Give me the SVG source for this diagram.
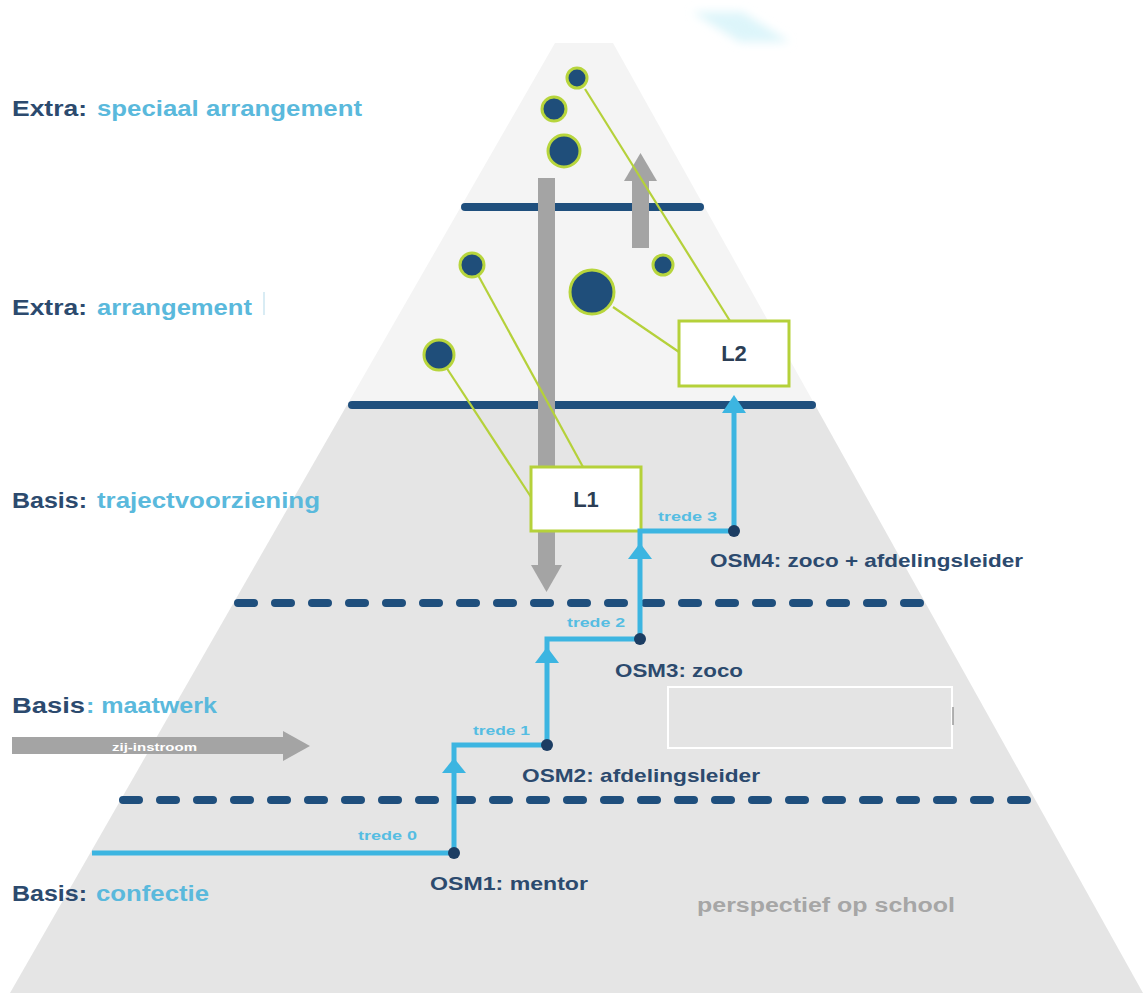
<svg xmlns="http://www.w3.org/2000/svg" width="1143" height="993" viewBox="0 0 1143 993">
<defs>
<filter id="blur" x="-30%" y="-50%" width="160%" height="200%"><feGaussianBlur stdDeviation="5"/></filter>
</defs>
<style>
.lvl{stroke:#1f4f7d;stroke-width:8;stroke-linecap:round;fill:none}
.dash{stroke-dasharray:16 21}
.bub{fill:#1f4e7a;stroke:#b7d53c;stroke-width:3}
.lnk{stroke:#b5d13a;stroke-width:2.2;fill:none}
.box{fill:#ffffff;stroke:#b5d13a;stroke-width:3}
.gr{fill:#a4a4a4}
.cy{fill:#3cb5e1}
.dot{fill:#1c3d63}
text{font-family:"Liberation Sans",Arial,sans-serif;font-weight:bold;dominant-baseline:central}
.dk{fill:#2c4a6e;font-size:22px}
.lb{fill:#5ab9dc;font-size:22px}
.osm{fill:#2c4a6e;font-size:19px}
.tr{fill:#55bde2;font-size:13px}
</style>
<rect width="1143" height="993" fill="#ffffff"/>
<g id="background">
<polygon points="692,12 742,12 790,42 740,42" fill="#ddf5fa" filter="url(#blur)"/>
<polygon points="555,43 613,43 815,405 347,405" fill="#f4f4f4"/>
<polygon points="347,405 815,405 1143,993 10,993" fill="#e5e5e5"/>
</g>
<g id="levels">
<line class="lvl" x1="465" y1="207" x2="700" y2="207"/>
<line class="lvl" x1="352" y1="405" x2="812" y2="405"/>
<line class="lvl dash" x1="238" y1="603" x2="925" y2="603"/>
<line class="lvl dash" x1="123" y1="800" x2="1040" y2="800"/>
</g>
<g id="grey-arrows">
<rect class="gr" x="538" y="178" width="17" height="388"/>
<polygon class="gr" points="531,565 562,565 546.5,592"/>
<rect class="gr" x="632" y="178" width="17" height="70"/>
<polygon class="gr" points="624,181 657,181 640.5,153"/>
</g>
<g id="connectors">
<line class="lnk" x1="585" y1="89" x2="730" y2="321"/>
<line class="lnk" x1="613" y1="307" x2="679" y2="352"/>
<line class="lnk" x1="478" y1="275" x2="583" y2="467"/>
<line class="lnk" x1="446" y1="367" x2="531" y2="497"/>
</g>
<g id="bubbles">
<circle class="bub" cx="577" cy="78" r="10"/>
<circle class="bub" cx="554" cy="109" r="12"/>
<circle class="bub" cx="564" cy="151" r="16"/>
<circle class="bub" cx="472" cy="265" r="12"/>
<circle class="bub" cx="663" cy="265" r="10"/>
<circle class="bub" cx="592" cy="292" r="22"/>
<circle class="bub" cx="439" cy="355" r="15"/>
</g>
<g id="L1">
<rect class="box" x="531" y="467" width="110" height="64"/>
<text x="586" y="499" text-anchor="middle" fill="#2c3e55" font-size="22">L1</text>
</g>
<g id="L2">
<rect class="box" x="679" y="321" width="110" height="65"/>
<text x="734" y="353" text-anchor="middle" fill="#2c3e55" font-size="22">L2</text>
</g>
<g id="stairs">
<path d="M92,853 H454 V745 H547 V639 H640 V531 H734 V408" fill="none" stroke="#3cb5e1" stroke-width="5"/>
<polygon class="cy" points="442,773 466,773 454,758"/>
<polygon class="cy" points="535,663 559,663 547,647"/>
<polygon class="cy" points="628,559 652,559 640,543"/>
<polygon class="cy" points="722,413 746,413 734,395"/>
<circle class="dot" cx="454" cy="853" r="6"/>
<circle class="dot" cx="547" cy="745" r="6"/>
<circle class="dot" cx="640" cy="639" r="6"/>
<circle class="dot" cx="734" cy="531" r="6"/>
<text class="tr" x="358" y="835" textLength="59" lengthAdjust="spacingAndGlyphs">trede 0</text>
<text class="tr" x="473" y="730" textLength="57" lengthAdjust="spacingAndGlyphs">trede 1</text>
<text class="tr" x="567" y="622" textLength="58" lengthAdjust="spacingAndGlyphs">trede 2</text>
<text class="tr" x="658" y="516" textLength="59" lengthAdjust="spacingAndGlyphs">trede 3</text>
</g>
<g id="osm-labels">
<text class="osm" x="430" y="883" textLength="158" lengthAdjust="spacingAndGlyphs">OSM1: mentor</text>
<text class="osm" x="522" y="775" textLength="238" lengthAdjust="spacingAndGlyphs">OSM2: afdelingsleider</text>
<text class="osm" x="615" y="670" textLength="128" lengthAdjust="spacingAndGlyphs">OSM3: zoco</text>
<text class="osm" x="710" y="560" textLength="313" lengthAdjust="spacingAndGlyphs">OSM4: zoco + afdelingsleider</text>
</g>
<g id="label-extra-speciaal">
<text class="dk" x="12" y="108" textLength="75" lengthAdjust="spacingAndGlyphs">Extra:</text>
<text class="lb" x="97" y="108" textLength="265" lengthAdjust="spacingAndGlyphs">speciaal arrangement</text>
</g>
<g id="label-extra-arrangement">
<text class="dk" x="12" y="307" textLength="75" lengthAdjust="spacingAndGlyphs">Extra:</text>
<text class="lb" x="97" y="307" textLength="155" lengthAdjust="spacingAndGlyphs">arrangement</text>
<rect x="264" y="288" width="130" height="31" fill="#ffffff"/>
<line x1="264" y1="292" x2="264" y2="315" stroke="#cde6f0" stroke-width="1.5"/>
</g>
<g id="label-basis-traject">
<text class="dk" x="12" y="500" textLength="75" lengthAdjust="spacingAndGlyphs">Basis:</text>
<text class="lb" x="97" y="500" textLength="223" lengthAdjust="spacingAndGlyphs">trajectvoorziening</text>
</g>
<g id="label-basis-maatwerk">
<text class="dk" x="12" y="705" textLength="73" lengthAdjust="spacingAndGlyphs">Basis</text>
<text class="lb" x="86" y="705" textLength="131" lengthAdjust="spacingAndGlyphs">: maatwerk</text>
</g>
<g id="label-basis-confectie">
<text class="dk" x="12" y="893" textLength="75" lengthAdjust="spacingAndGlyphs">Basis:</text>
<text class="lb" x="96" y="893" textLength="113" lengthAdjust="spacingAndGlyphs">confectie</text>
</g>
<g id="zij-instroom">
<rect class="gr" x="12" y="737" width="273" height="17"/>
<polygon class="gr" points="283,731 310,746 283,761"/>
<text x="112" y="747" fill="#ffffff" font-size="11" textLength="85" lengthAdjust="spacingAndGlyphs">zij-instroom</text>
</g>
<g id="perspectief">
<text x="697" y="905" fill="#a6a6a6" font-size="20" textLength="258" lengthAdjust="spacingAndGlyphs">perspectief op school</text>
</g>
<g id="blank-box">
<rect x="668" y="687" width="284" height="61" fill="#e4e4e4" stroke="#ffffff" stroke-width="2"/>
<line x1="953" y1="707" x2="953" y2="725" stroke="#9a9a9a" stroke-width="1.5"/>
</g>
</svg>
